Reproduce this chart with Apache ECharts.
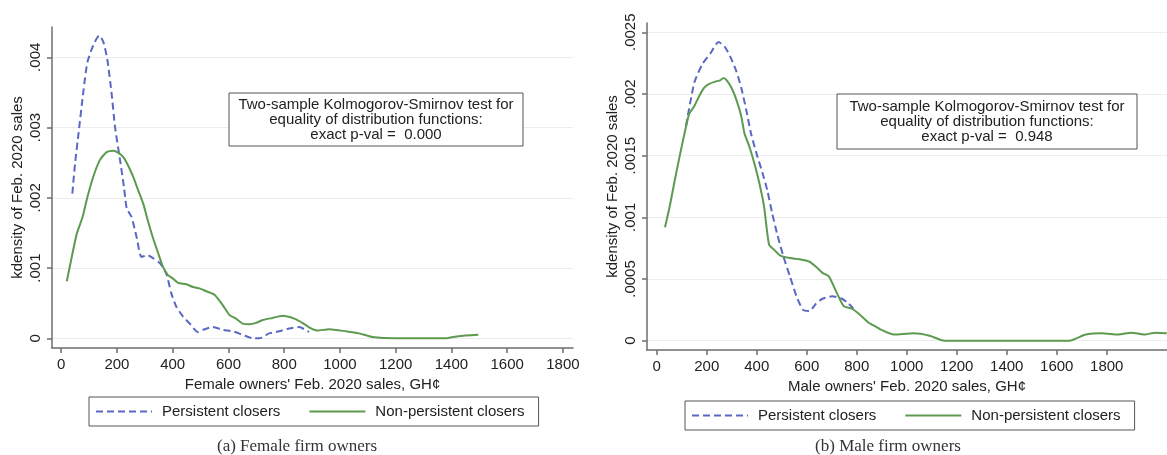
<!DOCTYPE html>
<html>
<head>
<meta charset="utf-8">
<script src="https://cdn.jsdelivr.net/npm/echarts@6/dist/echarts.min.js"></script>
<style>
  html, body { margin: 0; padding: 0; background: #fff; }
  #main { width: 1167px; height: 455px; }
</style>
</head>
<body>
<div id="main"></div>
<script>
// kdensity curves, [sales GH¢, density]
var femalePersistent = [
    [40,0.00206],[50,0.0025],[62,0.00291],[80,0.00353],[94,0.00393],[115,0.00417],[136,0.00431],
    [151,0.00422],[165,0.00398],[181,0.00348],[193,0.00301],[211,0.00254],[225,0.00216],[235,0.00185],
    [252,0.00173],[270,0.00145],[288,0.00116],[312,0.00118],[330,0.00114],[354,0.00107],[377,0.00092],
    [395,0.00064],[413,0.00045],[437,0.00031],[461,0.00021],[490,0.00009],[508,0.00012],[544,0.00016],
    [580,0.00012],[615,0.0001],[651,0.00005],[687,0.0],[711,0.0],[746,0.00007],[782,0.0001],
    [818,0.00014],[854,0.00016],[889,0.00009]
];
var femaleNonPersistent = [
    [20,0.00081],[38,0.00116],[56,0.00149],[77,0.00173],[94,0.00201],[115,0.0023],[139,0.00254],
    [163,0.00265],[187,0.00267],[205,0.00264],[223,0.00258],[240,0.00246],[258,0.0023],[276,0.00211],
    [294,0.00192],[312,0.00166],[330,0.00142],[348,0.00121],[365,0.00102],[383,0.0009],[401,0.00085],
    [419,0.00079],[449,0.00077],[473,0.00073],[496,0.00071],[520,0.00067],[550,0.00062],[580,0.00047],
    [604,0.00033],[627,0.00028],[651,0.00021],[675,0.0002],[699,0.00022],[723,0.00026],[758,0.00029],
    [794,0.00032],[836,0.00028],[865,0.00022],[896,0.00014],[918,0.00011],[961,0.00013],[1021,0.0001],
    [1068,0.00007],[1115,0.00002],[1200,0.0],[1282,0.0],[1378,0.0],[1425,0.00003],[1496,0.00005]
];
var malePersistent = [
    [117,0.00174],[150,0.00209],[182,0.00224],[215,0.00233],[247,0.00242],[273,0.00238],[299,0.00228],
    [319,0.00218],[338,0.00205],[358,0.00187],[377,0.00168],[403,0.00149],[423,0.00136],[442,0.00122],
    [462,0.00103],[481,0.00087],[507,0.00068],[533,0.00052],[559,0.00036],[585,0.00025],[611,0.00024],
    [637,0.0003],[663,0.00034],[702,0.00036],[741,0.00034],[767,0.0003],[787,0.00026]
];
var maleNonPersistent = [
    [33,0.00092],[52,0.00109],[72,0.0013],[91,0.00149],[111,0.00168],[130,0.00184],[150,0.0019],
    [169,0.00198],[189,0.00205],[208,0.00208],[234,0.0021],[254,0.00211],[267,0.00213],[280,0.00211],
    [299,0.00205],[319,0.00195],[338,0.00182],[351,0.00168],[371,0.00157],[390,0.00144],[410,0.00128],
    [429,0.00109],[449,0.00078],[468,0.00074],[494,0.00069],[533,0.00067],[572,0.00066],[611,0.00064],
    [637,0.0006],[663,0.00055],[689,0.00052],[715,0.00041],[748,0.00028],[780,0.00026],[813,0.00021],
    [845,0.00015],[871,0.00012],[897,0.00009],[949,0.00005],[1027,0.00006],[1092,0.00004],[1150,0.0],
    [1352,0.0],[1651,0.0],[1716,0.00005],[1781,0.00006],[1846,0.00005],[1898,0.000065],[1950,0.00005],
    [1995,0.000065],[2040,0.00006]
];

var xTicks = [0,200,400,600,800,1000,1200,1400,1600,1800];
var femaleYTicks = [0,0.001,0.002,0.003,0.004];
var maleYTicks = [0,0.0005,0.001,0.0015,0.002,0.0025];
var seriesNames = ['Persistent closers', 'Non-persistent closers'];

var FONT = '"Liberation Sans", Arial, Helvetica, sans-serif';
var TXT = '#222';
var AXIS = '#6e6e6e';
var BLUE = '#5a68c3';
var GREEN = '#5c9a4f';

function yLabel(v) {
    if (v === 0) return '0';
    return String(+v.toPrecision(4)).replace(/^0/, '');
}

function xAxisOf(gridIndex, min, max, name, gap) {
    return {
        type: 'value', gridIndex: gridIndex, min: min, max: max,
        name: name, nameLocation: 'middle', nameGap: gap,
        nameTextStyle: {fontFamily: FONT, fontSize: 15, color: TXT},
        axisLine: {show: true, onZero: false, lineStyle: {color: AXIS, width: 1.5}},
        axisTick: {show: true, length: 5, customValues: xTicks, lineStyle: {color: AXIS, width: 1.5}},
        axisLabel: {customValues: xTicks, margin: 9, fontFamily: FONT, fontSize: 15, color: TXT,
            formatter: function (v) { return String(v); }},
        splitLine: {show: false}
    };
}

function yAxisOf(gridIndex, min, max, ticks) {
    return {
        type: 'value', gridIndex: gridIndex, min: min, max: max,
        name: 'kdensity of Feb. 2020 sales', nameLocation: 'middle', nameGap: 27, nameRotate: 90,
        nameTextStyle: {fontFamily: FONT, fontSize: 15, color: TXT},
        axisLine: {show: true, onZero: false, lineStyle: {color: AXIS, width: 1.5}},
        axisTick: {show: true, length: 5, customValues: ticks, lineStyle: {color: AXIS, width: 1.5}},
        axisLabel: {customValues: ticks, rotate: 90, margin: 9, fontFamily: FONT, fontSize: 15, color: TXT,
            formatter: yLabel},
        splitLine: {show: true, lineStyle: {color: '#ececec', width: 1}}
    };
}

function curve(name, data, idx, dashed) {
    return {
        name: name, type: 'line', xAxisIndex: idx, yAxisIndex: idx,
        data: data, showSymbol: false, symbol: 'none', smooth: 0.2,
        lineStyle: {color: dashed ? BLUE : GREEN, width: 2, type: dashed ? [7, 4] : 'solid'},
        itemStyle: {color: dashed ? BLUE : GREEN},
        silent: true
    };
}

function legendAt(left, top) {
    return {
        left: left, top: top, orient: 'horizontal', selectedMode: false,
        itemWidth: 56, itemHeight: 14, itemGap: 28,
        padding: [7, 14, 7, 6],
        borderColor: '#555', borderWidth: 1, borderRadius: 0,
        itemStyle: {opacity: 0},
        textStyle: {fontFamily: FONT, fontSize: 15, color: TXT, padding: [0, 0, 0, 5]},
        data: seriesNames
    };
}

function noteBox(x, y, w, h, pval) {
    return [
        {type: 'rect', shape: {x: x, y: y, width: w, height: h},
            style: {fill: '#fff', stroke: '#555', lineWidth: 1}, z: 10},
        {type: 'text', x: x + w / 2, y: y + h / 2, z: 11,
            style: {text: 'Two-sample Kolmogorov-Smirnov test for\nequality of distribution functions:\nexact p-val =  ' + pval,
                fontFamily: FONT, fontSize: 15, fill: TXT, align: 'center', verticalAlign: 'middle', lineHeight: 15}}
    ];
}

var chart = echarts.init(document.getElementById('main'), null, {renderer: 'canvas'});
var option = {
    animation: false,
    backgroundColor: '#fff',
    grid: [
        {left: 52, top: 27, width: 521, height: 321},
        {left: 647, top: 23, width: 533, height: 327}
    ],
    xAxis: [
        xAxisOf(0, -33, 1836, "Female owners' Feb. 2020 sales, GH¢", 26),
        xAxisOf(1, -39, 2041, "Male owners' Feb. 2020 sales, GH¢", 27)
    ],
    yAxis: [
        yAxisOf(0, -0.000138, 0.004431, femaleYTicks),
        yAxisOf(1, -0.0000754, 0.002575, maleYTicks)
    ],
    legend: [legendAt(89, 397), legendAt(685, 401)],
    series: [
        curve(seriesNames[0], femalePersistent, 0, true),
        curve(seriesNames[1], femaleNonPersistent, 0, false),
        curve(seriesNames[0], malePersistent, 1, true),
        curve(seriesNames[1], maleNonPersistent, 1, false)
    ],
    graphic: noteBox(229, 93, 294, 53, '0.000').concat(noteBox(837, 94, 300, 55, '0.948')).concat([
        {type: 'text', x: 297, y: 447, style: {text: '(a) Female firm owners', fontFamily: '"Liberation Serif", "Times New Roman", serif',
            fontSize: 17, fill: '#333', align: 'center', verticalAlign: 'middle'}},
        {type: 'text', x: 888, y: 447, style: {text: '(b) Male firm owners', fontFamily: '"Liberation Serif", "Times New Roman", serif',
            fontSize: 17, fill: '#333', align: 'center', verticalAlign: 'middle'}}
    ])
};
chart.setOption(option);
</script>
</body>
</html>
